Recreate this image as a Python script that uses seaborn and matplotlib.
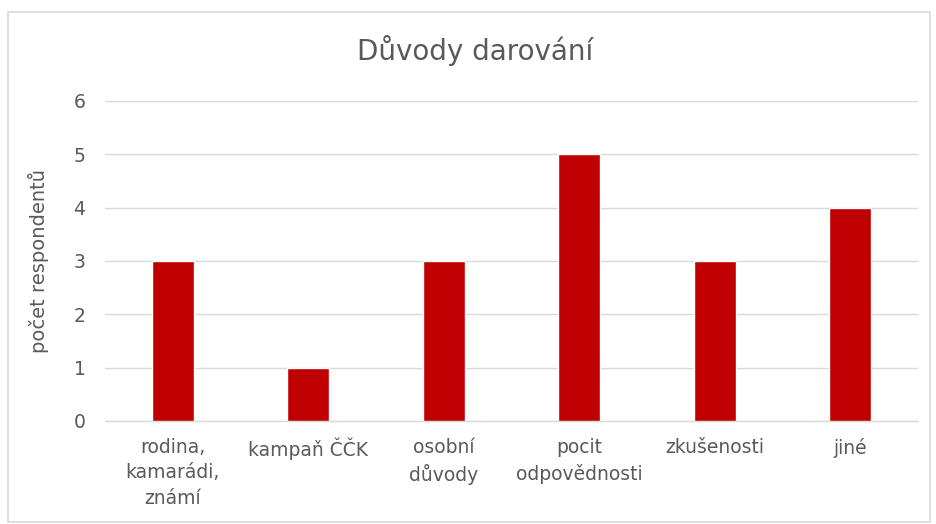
import matplotlib
matplotlib.use("Agg")
import matplotlib.pyplot as plt
import seaborn as sns
import pandas as pd
from matplotlib.patches import Rectangle

categories = ["rodina,\nkamarádi,\nznámí", "kampaň ČČK", "osobní\ndůvody",
              "pocit\nodpovědnosti", "zkušenosti", "jiné"]
values = [3, 1, 3, 5, 3, 4]
yticks = [0, 1, 2, 3, 4, 5, 6]

sns.set_theme(style="white")
plt.rcParams['font.family'] = ['DejaVu Sans']

df = pd.DataFrame({"cat": categories, "val": values})

fig = plt.figure(figsize=(9.37, 5.24), dpi=100)
ax = fig.add_axes([105/937, 103/524, 813/937, 320/524])
sns.barplot(data=df, x="cat", y="val", color="#C00000", width=0.31,
            saturation=1, ax=ax, zorder=3)

ax.set_ylim(0, 6)
ax.set_yticks(yticks)
ax.yaxis.grid(True, color="#D9D9D9", linewidth=1, zorder=0)
for s in ["top", "right", "left"]:
    ax.spines[s].set_visible(False)
ax.spines["bottom"].set_color("#D9D9D9")
ax.spines["bottom"].set_linewidth(1)
ax.tick_params(axis="both", length=0, labelsize=13.5, labelcolor="#595959")
ax.tick_params(axis="x", pad=12)
ax.tick_params(axis="y", pad=14)
ax.set_xlabel("")
ax.set_ylabel("počet respondentů", fontsize=14, color="#595959", labelpad=18)
for lbl in ax.get_xticklabels():
    lbl.set_linespacing(1.45)

fig.text(475/937, 1 - 50/524, "Důvody darování", ha="center", va="center",
         fontsize=20, color="#595959")

fig.patches.append(Rectangle((8/937, 2/524), 922/937, 510/524,
                             transform=fig.transFigure, fill=False,
                             edgecolor="#D9D9D9", linewidth=1.2))

fig.savefig("out.png", dpi=100, facecolor="white")
